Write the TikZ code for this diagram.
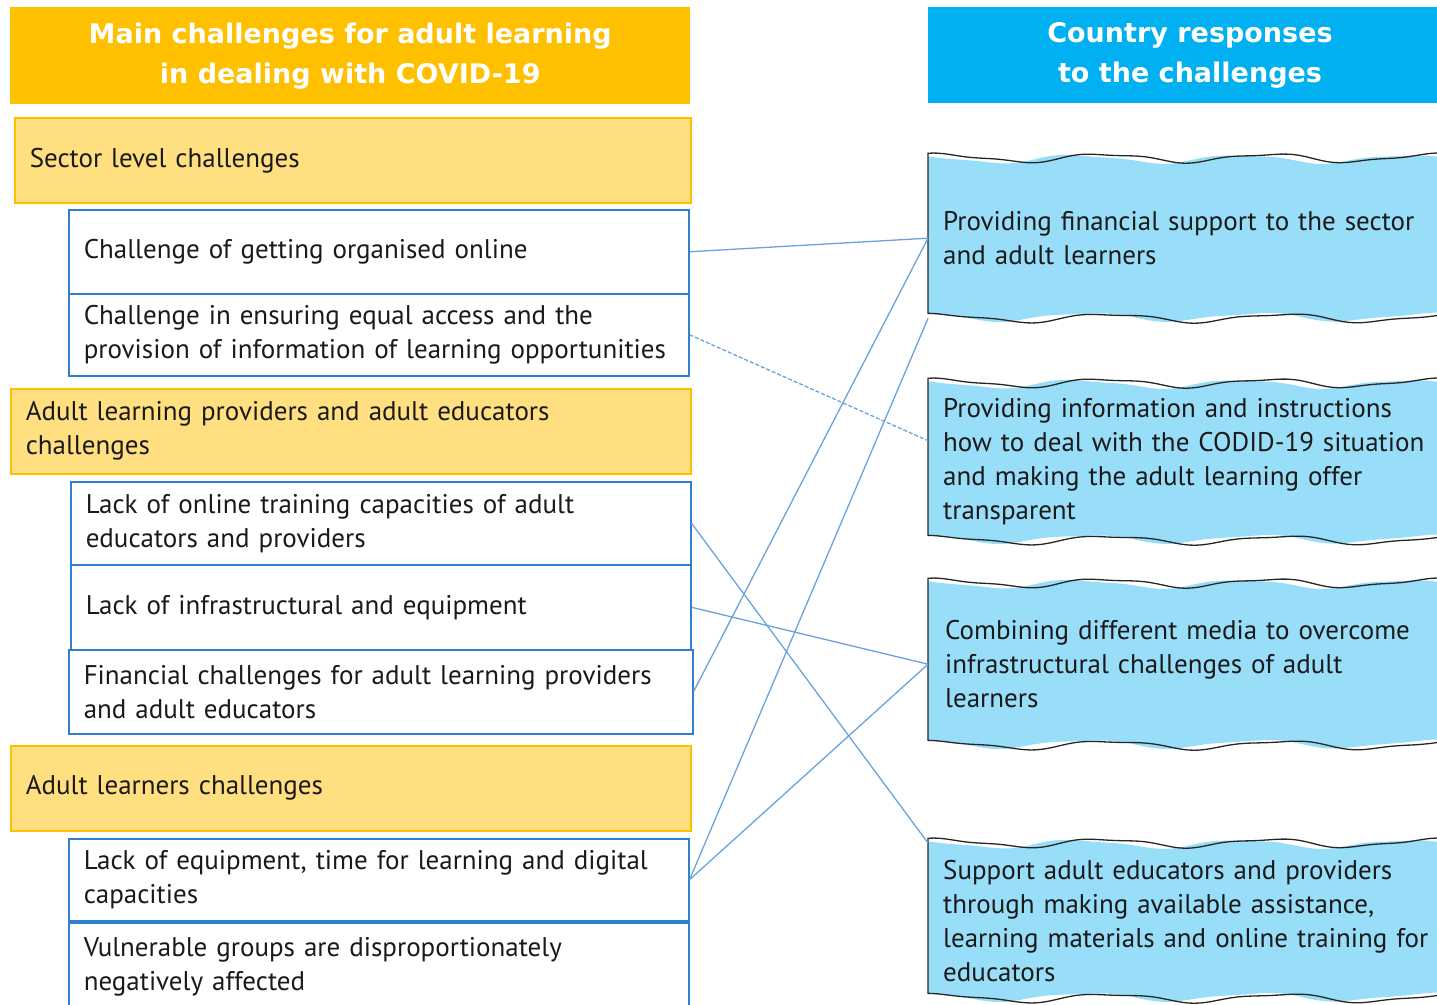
\documentclass[tikz,border=0pt]{standalone}
\usepackage{fontspec}
\setmainfont{PT Sans}
\newfontfamily\headfont{DejaVu Sans}
\usepackage{xcolor}
\usepackage{tikz}

\definecolor{headorange}{HTML}{FFC000}
\definecolor{headcyan}{HTML}{00B0F0}
\definecolor{groupfill}{HTML}{FFDF80}
\definecolor{itemblue}{HTML}{2E80CC}
\definecolor{linkblue}{HTML}{6AA2DC}
\definecolor{respfill}{HTML}{99DEF8}
\definecolor{bodytext}{HTML}{1A1A1A}

\tikzset{
  headbox/.style={fill=#1, text=white, align=center, inner sep=0,
    font=\headfont\bfseries\fontsize{27}{40}\selectfont},
  groupbox/.style={draw=headorange, fill=groupfill, line width=1.5, anchor=north west,
    inner xsep=15, inner ysep=0, text width=650, minimum height=85, align=left,
    text=bodytext, font=\fontsize{27}{34}\selectfont},
  itembox/.style={draw=itemblue, fill=white, line width=1.5, anchor=north west,
    inner xsep=15, inner ysep=0, text width=590, minimum height=84, align=left,
    text=bodytext, font=\fontsize{27}{34}\selectfont},
  resptext/.style={anchor=north west, inner xsep=15, inner ysep=0, text width=505,
    align=left, text=bodytext, font=\fontsize{27}{34}\selectfont},
  waveline/.style={draw=black!85, line width=1.3},
  link/.style={draw=linkblue, line width=1.3},
}

\begin{document}
\begin{tikzpicture}[x=1pt, y=-1pt]

    \useasboundingbox (0,0) rectangle (1437,1004);

    % Headers
    \node[headbox=headorange, anchor=north west, minimum width=680, minimum height=97]
        (headL) at (10,7) {Main challenges for adult learning\\in dealing with COVID-19};
    \node[headbox=headcyan, minimum width=524, minimum height=96]
        (headR) at (1190,55) {Country responses\\to the challenges};

    % Sector level
    \node[groupbox, text width=646] (g1) at (14,117) {Sector level challenges};
    \node[itembox] (c1) at (68,209) {Challenge of getting organised online};
    \node[itembox, minimum height=82] (c2) at (68,293)
        {Challenge in ensuring equal access and the\\provision of information of learning opportunities};

    % Providers and educators
    \node[groupbox] (g2) at (10,388) {Adult learning providers and adult educators\\challenges};
    \node[itembox, minimum height=83] (c3) at (70,481)
        {Lack of online training capacities of adult\\educators and providers};
    \node[itembox, minimum height=85] (c4) at (70,564) {Lack of infrastructural and equipment};
    \node[itembox, text width=594] (c5) at (68,649)
        {Financial challenges for adult learning providers\\and adult educators};

    % Adult learners
    \node[groupbox] (g3) at (10,745) {Adult learners challenges};
    \node[itembox, minimum height=82] (c6) at (68,838)
        {Lack of equipment, time for learning and digital\\capacities};
    \node[itembox, minimum height=88] (c7) at (68,922)
        {Vulnerable groups are disproportionately\\negatively affected};

    % Wavy response boxes
    \foreach \ytop/\ybot in {158/318, 383/540, 583/745, 843/998} {
        \fill[respfill] plot[domain=928:1437, samples=100, smooth]
            (\x, {\ytop+1+4*sin(2.2*\x+60)+1*sin(4.7*\x)})
            -- plot[domain=1437:928, samples=100, smooth]
            (\x, {\ybot-1+4*sin(2.1*\x+150)+1*sin(4.4*\x+20)}) -- cycle;
        \draw[waveline] plot[domain=1437:928, samples=100, smooth]
            (\x, {\ytop+4*sin(2.2*\x)+1.2*sin(4.9*\x+40)})
            -- plot[domain=928:1437, samples=100, smooth]
            (\x, {\ybot+4*sin(2.1*\x+100)+1.2*sin(4.6*\x)});
    }

    % Response texts
    \node[resptext, minimum height=160] (r1) at (928,158)
        {Providing financial support to the sector\\and adult learners};
    \node[resptext, minimum height=157] (r2) at (928,383)
        {Providing information and instructions\\how to deal with the CODID-19 situation\\and making the adult learning offer\\transparent};
    \node[resptext, minimum height=162, inner xsep=17] (r3) at (928,583)
        {Combining different media to overcome\\infrastructural challenges of adult\\learners};
    \node[resptext, minimum height=155] (r4) at (928,843)
        {Support adult educators and providers\\through making available assistance,\\learning materials and online training for\\educators};

    % Connectors
    \draw[link] (c1.east) -- (r1.west);
    \draw[link, dashed, dash pattern=on 4pt off 2pt] (c2.east) -- ([yshift=21pt]r2.west);
    \draw[link] (c3.east) -- (r4.north west);
    \draw[link] (c4.east) -- (r3.west);
    \draw[link] (c5.east) -- (r1.west);
    \draw[link] (c6.east) -- (r1.south west);
    \draw[link] (c6.east) -- (r3.west);

\end{tikzpicture}
\end{document}
